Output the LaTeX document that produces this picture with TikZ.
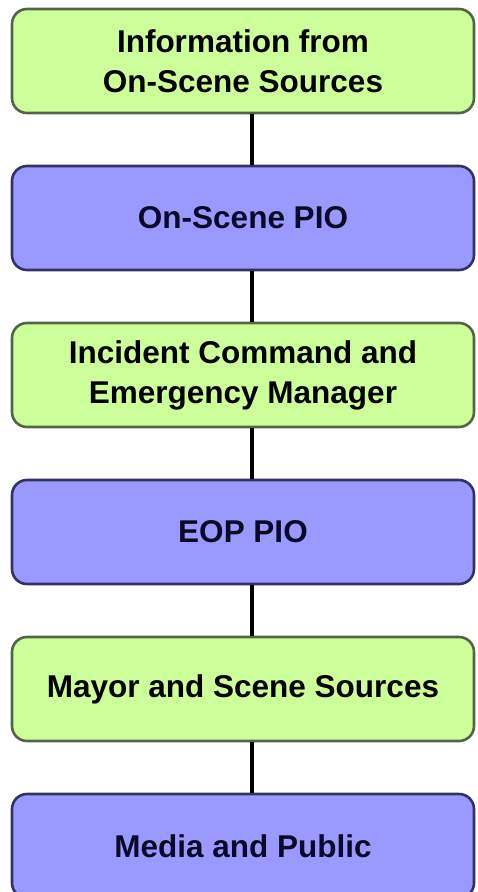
\documentclass[tikz,border=0pt]{standalone}
\usepackage{fontspec}
\setmainfont{Liberation Sans}
\usetikzlibrary{positioning}

\definecolor{boxgreen}{RGB}{204,255,153}
\definecolor{edgegreen}{RGB}{84,100,72}
\definecolor{boxblue}{RGB}{153,153,255}
\definecolor{edgeblue}{RGB}{50,50,100}
\definecolor{textblue}{RGB}{10,10,40}

\tikzset{
  stage/.style={rectangle, rounded corners=15pt, line width=2.6pt,
    minimum width=462pt, minimum height=104pt, align=center,
    font=\bfseries\fontsize{31.5}{40}\selectfont},
  greenbox/.style={stage, fill=boxgreen, draw=edgegreen, text=black},
  bluebox/.style={stage, fill=boxblue, draw=edgeblue, text=textblue},
  link/.style={line width=4.5pt, black}
}

\begin{document}
\begin{tikzpicture}[x=1pt,y=-1pt]
    %\draw[help lines] (0,0) grid (478,892);
    \useasboundingbox (0,0) rectangle (478,892);

    \node[greenbox] (sources) at (243,61)  {Information from\\On-Scene Sources};
    \node[bluebox]  (scenepio) at (243,218) {On-Scene PIO};
    \node[greenbox] (command) at (243,375) {Incident Command and\\Emergency Manager};
    \node[bluebox]  (eoppio) at (243,532) {EOP PIO};
    \node[greenbox] (mayor) at (243,689) {Mayor and Scene Sources};
    \node[bluebox]  (media) at (243,846) {Media and Public};

    \foreach \a/\b in {sources/scenepio,scenepio/command,command/eoppio,eoppio/mayor,mayor/media}
    	\draw [link] ([xshift=9pt]\a.south) -- ([xshift=9pt]\b.north);

\end{tikzpicture}
\end{document}
